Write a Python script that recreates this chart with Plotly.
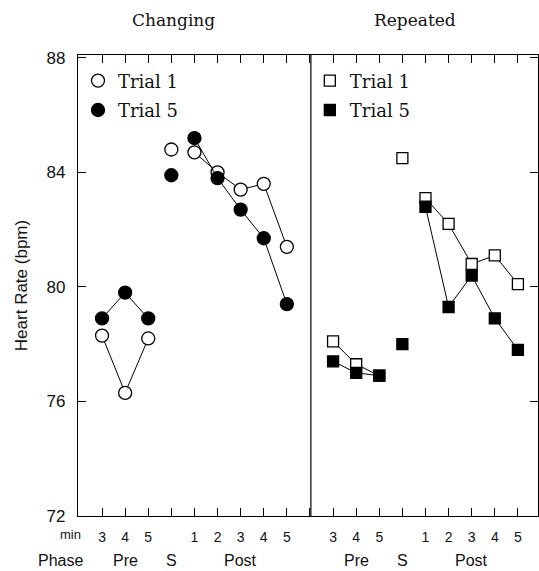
import plotly.graph_objects as go

# ---- data ----
slot_labels = ["3", "4", "5", "", "1", "2", "3", "4", "5"]   # min within phase (S has none)
phases = ["Pre", "S", "Post"]
panels = ["Changing", "Repeated"]

chg_t1_pre = [78.3, 76.3, 78.2]
chg_t1_s = 84.8
chg_t1_post = [84.7, 84.0, 83.4, 83.6, 81.4]

chg_t5_pre = [78.9, 79.8, 78.9]
chg_t5_s = 83.9
chg_t5_post = [85.2, 83.8, 82.7, 81.7, 79.4]

rep_t1_pre = [78.1, 77.3, 76.9]
rep_t1_s = 84.5
rep_t1_post = [83.1, 82.2, 80.8, 81.1, 80.1]

rep_t5_pre = [77.4, 77.0, 76.9]
rep_t5_s = 78.0
rep_t5_post = [82.8, 79.3, 80.4, 78.9, 77.8]

y_ticks = [72, 76, 80, 84, 88]

# ---- layout helpers ----
n_slots = len(slot_labels)
panel_offset = n_slots + 1      # right panel starts after a one-slot gap

def xs(offset):
    return [offset + i + 1 for i in range(n_slots)]

fig = go.Figure()

def add_series(offset, pre, s, post, symbol, filled, name, legend):
    x = xs(offset)
    y_line = pre + [None] + post
    y_mark = pre + [s] + post
    fig.add_trace(go.Scatter(x=x, y=y_line, mode="lines",
                             line=dict(color="black", width=1),
                             showlegend=False, hoverinfo="skip"))
    size = 13 if symbol == "circle" else 11
    fig.add_trace(go.Scatter(
        x=x, y=y_mark, mode="markers", name=name, legend=legend,
        legendgroup=legend + name,
        marker=dict(symbol=symbol, size=size,
                    color="black" if filled else "white",
                    line=dict(color="black", width=1.3)),
    ))

add_series(0, chg_t1_pre, chg_t1_s, chg_t1_post, "circle", False, "Trial 1", "legend")
add_series(0, chg_t5_pre, chg_t5_s, chg_t5_post, "circle", True, "Trial 5", "legend")
add_series(panel_offset, rep_t1_pre, rep_t1_s, rep_t1_post, "square", False, "Trial 1", "legend2")
add_series(panel_offset, rep_t5_pre, rep_t5_s, rep_t5_post, "square", True, "Trial 5", "legend2")

tickvals = xs(0) + [panel_offset] + xs(panel_offset)
ticktext = slot_labels + [""] + slot_labels

legend_common = dict(font=dict(family="DejaVu Serif", size=18, color="#111"),
                     bgcolor="rgba(0,0,0,0)", traceorder="grouped",
                     tracegroupgap=3, xanchor="left", yanchor="top")

fig.update_layout(
    width=539, height=571,
    margin=dict(l=78, r=1, t=55, b=55),
    plot_bgcolor="white", paper_bgcolor="white",
    legend=dict(x=0.0, y=0.984, **legend_common),
    legend2=dict(x=0.504, y=0.984, **legend_common),
    xaxis=dict(range=[-0.04, 19.87], tickmode="array", tickvals=tickvals,
               ticktext=ticktext, ticks="inside", ticklen=8, tickwidth=1.2,
               tickcolor="black", showline=True, linecolor="black", linewidth=1.2,
               mirror="ticks", showgrid=False, zeroline=False,
               ticklabelstandoff=8,
               tickfont=dict(family="Liberation Sans", size=14, color="#111")),
    yaxis=dict(range=[72, 88.1], tickvals=y_ticks, ticks="inside", ticklen=8,
               tickwidth=1.2, tickcolor="black", showline=True, linecolor="black",
               linewidth=1.2, mirror="ticks", showgrid=False, zeroline=False,
               ticklabelstandoff=8,
               tickfont=dict(family="Liberation Sans", size=17, color="#111"),
               title=dict(text="Heart Rate (bpm)", standoff=14,
                          font=dict(family="Liberation Sans", size=17, color="#111"))),
)

fig.add_shape(type="line", xref="x", yref="paper", x0=panel_offset + 0.04,
              x1=panel_offset + 0.04, y0=0, y1=1,
              line=dict(color="black", width=1.2))

ann_font = dict(family="Liberation Sans", size=16, color="#111")
common = dict(showarrow=False, xanchor="center", yanchor="middle")
fig.add_annotation(text="min", xref="paper", yref="paper", x=-0.017, y=-0.041,
                   font=dict(family="Liberation Sans", size=13, color="#111"), **common)
fig.add_annotation(text="Phase", xref="paper", yref="paper", x=-0.039, y=-0.097,
                   font=ann_font, **common)
phase_slots = [2, 4, 7]
for off in (0, panel_offset):
    for ph, sl in zip(phases, phase_slots):
        fig.add_annotation(text=ph, xref="x", yref="paper", x=off + sl, y=-0.097,
                           font=ann_font, **common)

for name, xp in zip(panels, [0.207, 0.733]):
    fig.add_annotation(text=name, xref="paper", yref="paper", x=xp, y=1.076,
                       font=dict(family="DejaVu Serif", size=17, color="#111"), **common)

fig.write_html("out.html")
